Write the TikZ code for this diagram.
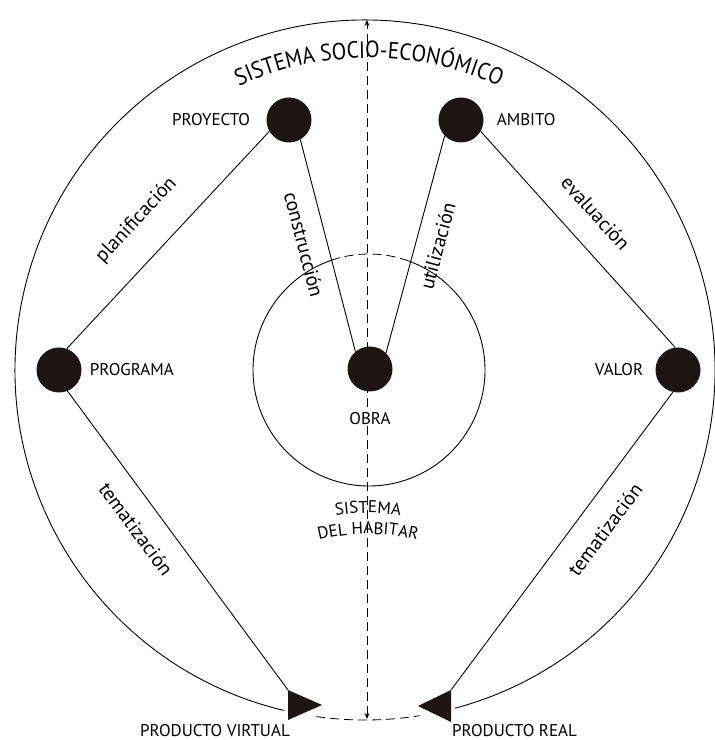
\documentclass[tikz,border=0pt]{standalone}
\usepackage{fontspec}
\setmainfont{PT Sans}
\newfontfamily\titlefont[FakeStretch=0.9]{PT Sans}
\usetikzlibrary{positioning, arrows.meta, decorations.text}

\definecolor{dotblack}{RGB}{30, 20, 18}
\newcommand{\titlesize}{\titlefont\fontsize{23.5}{23.5}\selectfont}
\newcommand{\habsize}{\fontsize{17}{17}\selectfont}

\tikzset{
  dot/.style={circle, fill=dotblack, minimum size=45pt, inner sep=0pt},
  lbl/.style={inner sep=0pt, font=\fontsize{17}{20}\selectfont},
  flowlbl/.style={inner sep=0pt, sloped, font=\fontsize{20}{24}\selectfont},
  wire/.style={line width=0.9pt},
  axis/.style={line width=0.8pt, dash pattern=on 9pt off 5pt},
}

\begin{document}
\begin{tikzpicture}[x=1pt, y=1pt]
  \useasboundingbox (0,0) rectangle (715,740);

  % sistema socio-economico
  \coordinate (virtArc) at ([shift={(365,370)}]256.6:350pt);
  \draw[wire] (virtArc) arc[start angle=256.6, end angle=-75.1, radius=350pt];
  \draw[axis] ([shift={(365,370)}]262:350pt) arc[start angle=262, end angle=279, radius=350pt];
  \path[decorate, decoration={text along path, text align=center,
      text={|\titlesize|SISTEMA SOCIO-ECONÓMICO}}]
    ([shift={(369,370)}]135:312pt) arc[start angle=135, end angle=45, radius=312pt];

  % sistema del habitar
  \draw[wire] ([shift={(369,370)}]107.5:116pt) arc[start angle=107.5, end angle=430, radius=116pt];
  \draw[axis] ([shift={(369,370)}]70:116pt) arc[start angle=70, end angle=107.5, radius=116pt];
  \path[decorate, decoration={text along path, text align=center, text={|\habsize|SISTEMA}}]
    ([shift={(368,0)}]110:227pt) arc[start angle=110, end angle=70, radius=227pt];
  \path[decorate, decoration={text along path, text align=center, text={|\habsize|DEL HABITAR}}]
    ([shift={(368,0)}]110:206pt) arc[start angle=110, end angle=70, radius=206pt];

  % eje
  \coordinate (axisTop) at (367,720);
  \coordinate (axisBot) at (367,21);
  \draw[axis, {Stealth[length=6pt,width=5pt]}-{Stealth[length=6pt,width=5pt]}] (axisBot) -- (axisTop);

  % nodos
  \node[dot] (proyecto) at (289,620) {};
  \node[dot] (ambito) at (461,620) {};
  \node[dot] (programa) at (59,370) {};
  \node[dot] (valor) at (678,370) {};
  \node[dot] (obra) at (370,371) {};

  \node[lbl, left=16pt of proyecto] (proyectoLbl) {PROYECTO};
  \node[lbl, right=13pt of ambito] (ambitoLbl) {AMBITO};
  \node[lbl, right=8pt of programa] (programaLbl) {PROGRAMA};
  \node[lbl, left=12pt of valor] (valorLbl) {VALOR};
  \node[lbl, below=18pt of obra, fill=white, inner sep=2pt] (obraLbl) {OBRA};

  % productos
  \coordinate (virtTop) at (288,50);
  \coordinate (virtBot) at (288,20);
  \coordinate (virtTip) at (322,35);
  \fill[dotblack] (virtTop) -- (virtBot) -- (virtTip) -- cycle;
  \coordinate (realTop) at (451,50);
  \coordinate (realBot) at (451,18);
  \coordinate (realTip) at (418,34);
  \fill[dotblack] (realTop) -- (realBot) -- (realTip) -- cycle;

  \node[lbl, anchor=north east] (virtLbl) at ([xshift=2pt, yshift=-4pt]virtBot) {PRODUCTO VIRTUAL};
  \node[lbl, anchor=north west] (realLbl) at ([xshift=1pt, yshift=-2pt]realBot) {PRODUCTO REAL};

  % relaciones
  \draw[wire] (programa.70) -- node[flowlbl, above=27pt, pos=0.476] {planificación} (proyecto.210);
  \draw[wire] (proyecto.-60) -- node[flowlbl, below=15pt, pos=0.467] {construcción} (obra.130);
  \draw[wire] (obra.45) -- node[flowlbl, below=14pt, pos=0.52] {utilización} (ambito.224);
  \draw[wire] (ambito.-30) -- node[flowlbl, above=23pt, pos=0.474] {evaluación} (valor.97);
  \draw[wire] (programa.-68) -- node[flowlbl, below=19pt, pos=0.409] {tematización} (virtTop);
  \draw[wire] (realTop) -- node[flowlbl, below=20pt, pos=0.594] {tematización} (valor.-103);
\end{tikzpicture}
\end{document}
